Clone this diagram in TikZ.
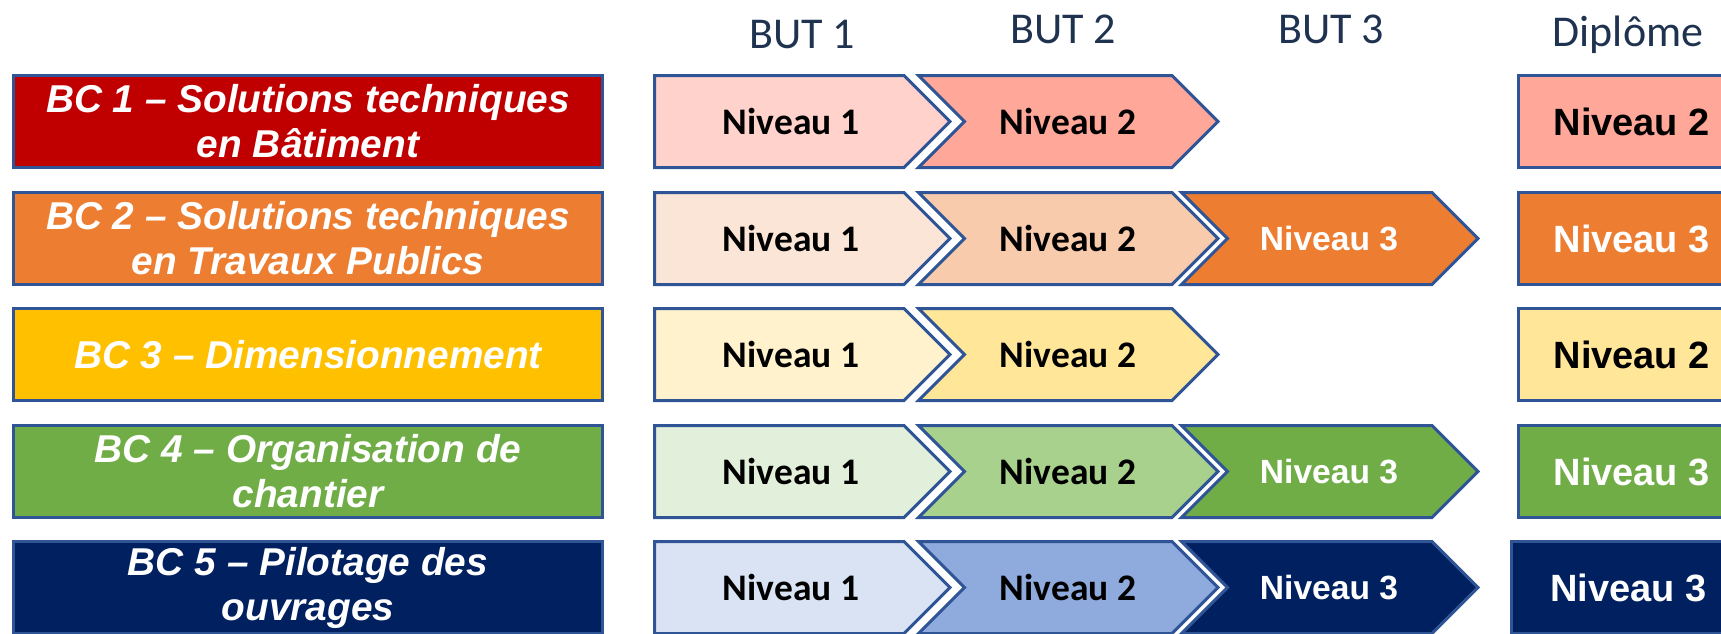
\documentclass[tikz,border=0pt]{standalone}
\usepackage{fontspec}
\setmainfont{Carlito}
\newfontfamily\arialfont{Liberation Sans}
\definecolor{edgeblue}{HTML}{2F5597}
\definecolor{headblue}{HTML}{1F3350}
\definecolor{bcred}{HTML}{C00000}
\definecolor{redA}{HTML}{FFD3CC}
\definecolor{redB}{HTML}{FFA799}
\definecolor{bcorange}{HTML}{ED7D31}
\definecolor{orangeA}{HTML}{FBE5D6}
\definecolor{orangeB}{HTML}{F8CBAD}
\definecolor{bcgold}{HTML}{FFC000}
\definecolor{goldA}{HTML}{FFF2CC}
\definecolor{goldB}{HTML}{FFE699}
\definecolor{bcgreen}{HTML}{70AD47}
\definecolor{greenA}{HTML}{E2EFDA}
\definecolor{greenB}{HTML}{A9D18E}
\definecolor{bcnavy}{HTML}{002060}
\definecolor{navyA}{HTML}{DAE3F3}
\definecolor{navyB}{HTML}{8FAADC}

\begin{document}
\begin{tikzpicture}[x=0.5pt,y=-0.5pt,line join=miter,
	chev/.style={draw=edgeblue,line width=1.5pt},
	lvl/.style={font=\bfseries\fontsize{18.75}{22}\selectfont},
	lvlw/.style={text=white,font=\arialfont\bfseries\fontsize{16.8}{20}\selectfont},
	bcbox/.style={draw=edgeblue,line width=1.5pt,minimum width=294.5pt,minimum height=46pt,inner sep=0pt,align=center,text=white,font=\arialfont\bfseries\itshape\fontsize{19.4}{22.5}\selectfont},
	dipbox/.style={draw=edgeblue,line width=1.5pt,minimum width=113.25pt,minimum height=46pt,inner sep=0pt,font=\arialfont\bfseries\fontsize{19}{22}\selectfont},
	head/.style={text=headblue,font=\fontsize{22}{26}\selectfont,anchor=base}]
	\useasboundingbox (0,0) rectangle (1721,633);
	\clip (0,0) rectangle (1721,633);
	% en-tetes
	\node[head] (but1) at (802,48) {BUT 1};
	\node[head] (but2) at (1063,43) {BUT 2};
	\node[head] (but3) at (1331,43) {BUT 3};
	\node[head] (dipl) at (1628,46) {Diplôme};
	% BC 1
	\node[bcbox,fill=bcred] (bc1) at (308,121.5) {BC 1 – Solutions techniques\\en Bâtiment};
	\draw[chev,fill=redA] (654.5,75.5) -- ++(249.5,0) -- ++(46,46) -- ++(-46,46) -- ++(-249.5,0) -- cycle;
	\draw[chev,fill=redB] (918.5,75.5) -- ++(253.5,0) -- ++(46,46) -- ++(-46,46) -- ++(-253.5,0) -- ++(46,-46) -- cycle;
	\node[lvl] (n11) at (791,121.5) {Niveau 1};
	\node[lvl] (n12) at (1068,121.5) {Niveau 2};
	\node[dipbox,fill=redB] (d1) at (1631.75,121.5) {Niveau 2};
	% BC 2
	\node[bcbox,fill=bcorange] (bc2) at (308,238.5) {BC 2 – Solutions techniques\\en Travaux Publics};
	\draw[chev,fill=orangeA] (654.5,192.5) -- ++(249.5,0) -- ++(46,46) -- ++(-46,46) -- ++(-249.5,0) -- cycle;
	\draw[chev,fill=orangeB] (918.5,192.5) -- ++(253.5,0) -- ++(46,46) -- ++(-46,46) -- ++(-253.5,0) -- ++(46,-46) -- cycle;
	\draw[chev,fill=bcorange] (1181.5,192.5) -- ++(250.5,0) -- ++(46,46) -- ++(-46,46) -- ++(-250.5,0) -- ++(46,-46) -- cycle;
	\node[lvl] (n21) at (791,238.5) {Niveau 1};
	\node[lvl] (n22) at (1068,238.5) {Niveau 2};
	\node[lvlw] (n23) at (1329,238.5) {Niveau 3};
	\node[dipbox,fill=bcorange,text=white] (d2) at (1631.75,238.5) {Niveau 3};
	% BC 3
	\node[bcbox,fill=bcgold] (bc3) at (308,354.5) {BC 3 – Dimensionnement};
	\draw[chev,fill=goldA] (654.5,308.5) -- ++(249.5,0) -- ++(46,46) -- ++(-46,46) -- ++(-249.5,0) -- cycle;
	\draw[chev,fill=goldB] (918.5,308.5) -- ++(253.5,0) -- ++(46,46) -- ++(-46,46) -- ++(-253.5,0) -- ++(46,-46) -- cycle;
	\node[lvl] (n31) at (791,354.5) {Niveau 1};
	\node[lvl] (n32) at (1068,354.5) {Niveau 2};
	\node[dipbox,fill=goldB] (d3) at (1631.75,354.5) {Niveau 2};
	% BC 4
	\node[bcbox,fill=bcgreen] (bc4) at (308,471.5) {BC 4 – Organisation de\\chantier};
	\draw[chev,fill=greenA] (654.5,425.5) -- ++(249.5,0) -- ++(46,46) -- ++(-46,46) -- ++(-249.5,0) -- cycle;
	\draw[chev,fill=greenB] (918.5,425.5) -- ++(253.5,0) -- ++(46,46) -- ++(-46,46) -- ++(-253.5,0) -- ++(46,-46) -- cycle;
	\draw[chev,fill=bcgreen] (1181.5,425.5) -- ++(250.5,0) -- ++(46,46) -- ++(-46,46) -- ++(-250.5,0) -- ++(46,-46) -- cycle;
	\node[lvl] (n41) at (791,471.5) {Niveau 1};
	\node[lvl] (n42) at (1068,471.5) {Niveau 2};
	\node[lvlw] (n43) at (1329,471.5) {Niveau 3};
	\node[dipbox,fill=bcgreen,text=white] (d4) at (1631.75,471.5) {Niveau 3};
	% BC 5
	\node[bcbox,fill=bcnavy] (bc5) at (308,587.5) {BC 5 – Pilotage des\\ouvrages};
	\draw[chev,fill=navyA] (654.5,541.5) -- ++(249.5,0) -- ++(46,46) -- ++(-46,46) -- ++(-249.5,0) -- cycle;
	\draw[chev,fill=navyB] (918.5,541.5) -- ++(253.5,0) -- ++(46,46) -- ++(-46,46) -- ++(-253.5,0) -- ++(46,-46) -- cycle;
	\draw[chev,fill=bcnavy] (1181.5,541.5) -- ++(250.5,0) -- ++(46,46) -- ++(-46,46) -- ++(-250.5,0) -- ++(46,-46) -- cycle;
	\node[lvl] (n51) at (791,587.5) {Niveau 1};
	\node[lvl] (n52) at (1068,587.5) {Niveau 2};
	\node[lvlw] (n53) at (1329,587.5) {Niveau 3};
	\node[dipbox,fill=bcnavy,text=white,minimum width=116.75pt] (d5) at (1628.25,587.5) {Niveau 3};
\end{tikzpicture}
\end{document}
